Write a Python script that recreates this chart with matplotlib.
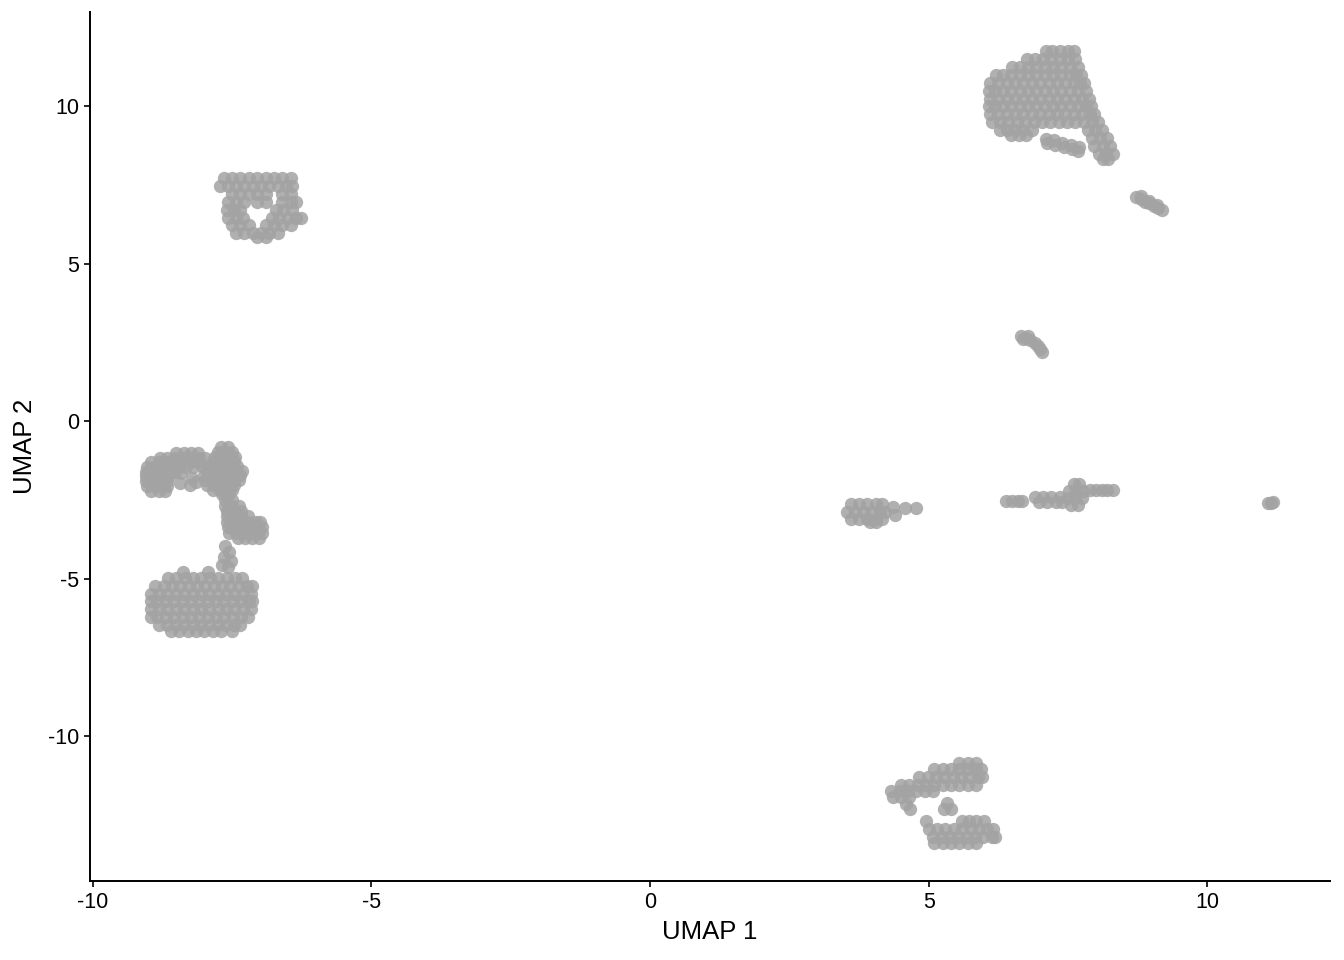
import matplotlib
matplotlib.use("Agg")
import matplotlib.pyplot as plt

plt.rcParams['font.family'] = ['Liberation Sans', 'DejaVu Sans']

# Each cluster is a list of rows: (UMAP 2 value, [UMAP 1 values])
ring_rows = [
    (7.72, [-7.65, -7.5, -7.35, -7.2, -7.05, -6.9, -6.75, -6.6, -6.45]),
    (7.47, [-7.72, -7.58, -7.43, -7.28, -7.13, -6.98, -6.83, -6.68, -6.53, -6.43]),
    (7.22, [-7.5, -7.35, -7.2, -7.05, -6.9, -6.6, -6.45]),
    (6.97, [-7.58, -7.43, -7.28, -7.05, -6.9, -6.6, -6.45, -6.35]),
    (6.72, [-7.6, -7.47, -7.35, -6.72, -6.58, -6.43]),
    (6.47, [-7.58, -7.43, -7.3, -6.78, -6.65, -6.5, -6.36, -6.27]),
    (6.22, [-7.5, -7.35, -7.2, -6.9, -6.75, -6.6, -6.45]),
    (5.97, [-7.43, -7.28, -7.13, -6.98, -6.83, -6.68]),
    (5.85, [-7.05, -6.9]),
]

left_arm_rows = [
    (-1.0, [-8.5, -8.37, -8.24, -8.12]),
    (-1.15, [-8.8, -8.66, -8.52, -8.38, -8.24, -8.1]),
    (-1.3, [-8.95, -8.82, -8.68, -8.54, -8.4, -8.26, -8.12]),
    (-1.45, [-9.02, -8.89, -8.75, -8.61, -8.47, -8.33, -8.2]),
    (-1.6, [-9.05, -8.92, -8.78, -8.64, -8.52]),
    (-1.75, [-9.05, -8.92, -8.78, -8.64]),
    (-1.9, [-9.05, -8.92, -8.78, -8.66]),
    (-2.05, [-9.02, -8.89, -8.76, -8.66]),
    (-2.2, [-8.95, -8.82, -8.7]),
    (-1.64, [-8.42]), (-1.96, [-8.44]), (-1.8, [-8.22]), (-2.02, [-8.26]),
    (-1.93, [-8.15]), (-1.16, [-7.99]), (-1.45, [-8.03]),
]

upper_mid_rows = [
    (-0.82, [-7.7, -7.57]),
    (-0.97, [-7.76, -7.63, -7.5]),
    (-1.12, [-7.8, -7.67, -7.54, -7.45]),
    (-1.27, [-7.85, -7.72, -7.59, -7.46]),
    (-1.42, [-7.9, -7.77, -7.64, -7.51, -7.42]),
    (-1.57, [-7.95, -7.82, -7.69, -7.56, -7.43, -7.33]),
    (-1.72, [-8.0, -7.87, -7.74, -7.61, -7.48, -7.35]),
    (-1.87, [-7.98, -7.85, -7.72, -7.59, -7.46, -7.38]),
    (-2.02, [-7.95, -7.82, -7.69, -7.56, -7.46]),
    (-2.17, [-7.85, -7.72, -7.59, -7.5]),
    (-2.32, [-7.68, -7.55]),
    (-2.5, [-7.62, -7.5]),
    (-2.68, [-7.62, -7.5, -7.38]),
    (-2.85, [-7.6, -7.47, -7.34]),
    (-3.02, [-7.6, -7.47, -7.34, -7.22]),
    (-3.2, [-7.6, -7.47, -7.34, -7.21, -7.08, -7.0]),
    (-3.37, [-7.58, -7.45, -7.32, -7.19, -7.06, -6.96]),
    (-3.54, [-7.56, -7.43, -7.3, -7.17, -7.04, -6.96]),
    (-3.72, [-7.4, -7.27, -7.14, -7.02]),
    (-3.95, [-7.62]), (-4.15, [-7.55]), (-4.3, [-7.65]), (-4.45, [-7.52]),
    (-4.55, [-7.68]), (-4.62, [-7.58]),
]

big_left_rows = [
    (-4.78, [-8.39, -7.94]),
    (-4.98, [-8.65, -8.5, -8.35, -8.2, -8.05, -7.9, -7.75, -7.6, -7.45, -7.33]),
    (-5.22, [-8.88, -8.73, -8.58, -8.43, -8.28, -8.13, -7.98, -7.83, -7.68, -7.53, -7.38, -7.23, -7.15]),
    (-5.47, [-8.96, -8.81, -8.66, -8.51, -8.36, -8.21, -8.06, -7.91, -7.76, -7.61, -7.46, -7.31, -7.16]),
    (-5.72, [-8.96, -8.84, -8.69, -8.54, -8.39, -8.24, -8.09, -7.94, -7.79, -7.64, -7.49, -7.34, -7.19, -7.15]),
    (-5.97, [-8.96, -8.81, -8.66, -8.51, -8.36, -8.21, -8.06, -7.91, -7.76, -7.61, -7.46, -7.31, -7.16]),
    (-6.22, [-8.95, -8.84, -8.69, -8.54, -8.39, -8.24, -8.09, -7.94, -7.79, -7.64, -7.49, -7.34, -7.22]),
    (-6.47, [-8.81, -8.66, -8.51, -8.36, -8.21, -8.06, -7.91, -7.76, -7.61, -7.46, -7.36]),
    (-6.65, [-8.6, -8.45, -8.3, -8.15, -8.0, -7.85, -7.7, -7.5]),
]

top_right_rows = [
    (11.75, [7.1, 7.22, 7.35, 7.5, 7.6]),
    (11.5, [6.77, 6.9, 7.05, 7.2, 7.35, 7.5, 7.62]),
    (11.25, [6.5, 6.63, 6.78, 6.93, 7.08, 7.23, 7.38, 7.53, 7.67]),
    (11.0, [6.2, 6.33, 6.48, 6.63, 6.78, 6.93, 7.08, 7.23, 7.38, 7.53, 7.65, 7.73]),
    (10.75, [6.1, 6.25, 6.4, 6.55, 6.7, 6.85, 7.0, 7.15, 7.3, 7.45, 7.6, 7.72, 7.78]),
    (10.5, [6.09, 6.18, 6.33, 6.48, 6.63, 6.78, 6.93, 7.08, 7.23, 7.38, 7.53, 7.68, 7.82]),
    (10.25, [6.1, 6.25, 6.4, 6.55, 6.7, 6.85, 7.0, 7.15, 7.3, 7.45, 7.6, 7.75, 7.87]),
    (10.0, [6.09, 6.18, 6.33, 6.48, 6.63, 6.78, 6.93, 7.08, 7.23, 7.38, 7.53, 7.68, 7.83, 7.91]),
    (9.75, [6.1, 6.25, 6.4, 6.55, 6.7, 6.85, 7.0, 7.15, 7.3, 7.45, 7.6, 7.75, 7.9, 7.96]),
    (9.5, [6.13, 6.28, 6.43, 6.58, 6.73, 6.88, 7.03, 7.18, 7.33, 7.48, 7.63, 7.78, 7.93, 8.03]),
    (9.25, [6.27, 6.4, 6.55, 6.7, 6.85, 7.85, 7.98, 8.1]),
    (9.1, [6.48, 6.62, 6.75]),
    (9.0, [7.93, 8.07, 8.2]),
    (8.75, [7.97, 8.12, 8.25]),
    (8.5, [8.05, 8.18, 8.3]),
    (8.33, [8.12, 8.22]),
    (8.98, [7.1]), (8.85, [7.12]), (8.92, [7.25]), (8.78, [7.27]), (8.85, [7.4]),
    (8.71, [7.42]), (8.78, [7.55]), (8.64, [7.57]), (8.7, [7.7]), (8.58, [7.68]),
]

diag_streak_rows = [
    (7.12, [8.72]), (7.05, [8.8]), (6.98, [8.88]), (6.92, [8.96]), (6.85, [9.04]),
    (6.78, [9.12]), (6.72, [9.18]), (7.15, [8.8]), (7.0, [8.95]), (6.86, [9.1]),
]

small_streak_rows = [
    (2.72, [6.66]), (2.66, [6.74]), (2.7, [6.78]), (2.58, [6.82]), (2.5, [6.9]),
    (2.4, [6.96]), (2.3, [7.0]), (2.2, [7.04]), (2.62, [6.7]),
]

mid_left_rows = [
    (-2.62, [3.6, 3.75, 3.9, 4.05, 4.16]),
    (-2.87, [3.53, 3.68, 3.83, 3.98, 4.13, 4.22]),
    (-3.1, [3.6, 3.75, 3.9, 4.05, 4.16]),
    (-3.2, [3.95, 4.05]),
    (-2.72, [4.35]), (-2.97, [4.39]), (-2.75, [4.57]), (-2.75, [4.78]),
]

mid_right_rows = [
    (-2.53, [6.39, 6.5, 6.6, 6.68]),
    (-2.4, [6.9, 7.05, 7.2, 7.35]),
    (-2.55, [6.98, 7.13, 7.28, 7.4]),
    (-2.0, [7.6, 7.7]),
    (-2.22, [7.52, 7.65, 7.76]),
    (-2.45, [7.5, 7.62, 7.75]),
    (-2.65, [7.55, 7.68]),
    (-2.17, [7.9, 8.0, 8.1, 8.2, 8.3]),
]

far_right_rows = [
    (-2.6, [11.08, 11.14]), (-2.55, [11.18]),
]

bottom_rows = [
    (-10.85, [5.55, 5.7, 5.85]),
    (-11.05, [5.1, 5.25, 5.4, 5.55, 5.7, 5.85, 5.93]),
    (-11.3, [4.83, 4.98, 5.13, 5.28, 5.43, 5.58, 5.73, 5.88, 5.95]),
    (-11.55, [4.5, 4.65, 4.8, 4.95, 5.1, 5.25, 5.4, 5.55, 5.7, 5.85]),
    (-11.75, [4.33, 4.48, 4.63, 4.78, 4.93, 5.08]),
    (-11.92, [4.35, 4.5, 4.65]),
    (-12.15, [4.6]), (-12.3, [4.66]),
    (-12.12, [5.33]), (-12.3, [5.28, 5.4]),
    (-12.7, [4.95, 5.6, 5.72, 5.85, 6.0]),
    (-12.95, [5.0, 5.15, 5.3, 5.45, 5.6, 5.75, 5.9, 6.05, 6.15]),
    (-13.2, [5.08, 5.23, 5.38, 5.53, 5.68, 5.83, 5.98, 6.13, 6.18]),
    (-13.4, [5.1, 5.25, 5.4, 5.55, 5.7, 5.85]),
]

x_ticks = [-10, -5, 0, 5, 10]
y_ticks = [-10, -5, 0, 5, 10]
x_label = "UMAP 1"
y_label = "UMAP 2"

all_clusters = [ring_rows, left_arm_rows, upper_mid_rows, big_left_rows, top_right_rows,
                diag_streak_rows, small_streak_rows, mid_left_rows, mid_right_rows,
                far_right_rows, bottom_rows]

xs, ys = [], []
for rows in all_clusters:
    for yv, row in rows:
        for xv in row:
            xs.append(xv)
            ys.append(yv)

fig = plt.figure(figsize=(13.44, 9.6), dpi=100)
ax = fig.add_axes([90 / 1344, 79 / 960, 1240 / 1344, 869 / 960])
ax.scatter(xs, ys, s=92, c='#a3a3a3', alpha=0.85, linewidths=0)

ax.set_xlim(-10.05, 12.2)
ax.set_ylim(-14.6, 13.0)
ax.set_xticks(x_ticks)
ax.set_yticks(y_ticks)
ax.set_xticklabels([str(t) for t in x_ticks])
ax.set_yticklabels([str(t) for t in y_ticks])
for side in ['top', 'right']:
    ax.spines[side].set_visible(False)
for side in ['left', 'bottom']:
    ax.spines[side].set_linewidth(1.4)
    ax.spines[side].set_color('black')
ax.tick_params(axis='both', length=4, width=1.2, colors='black', labelsize=15.5, pad=4)
ax.set_xlabel(x_label, fontsize=18.5, labelpad=5)
ax.set_ylabel(y_label, fontsize=18.5, labelpad=8)

fig.savefig("out.png", dpi=100)
